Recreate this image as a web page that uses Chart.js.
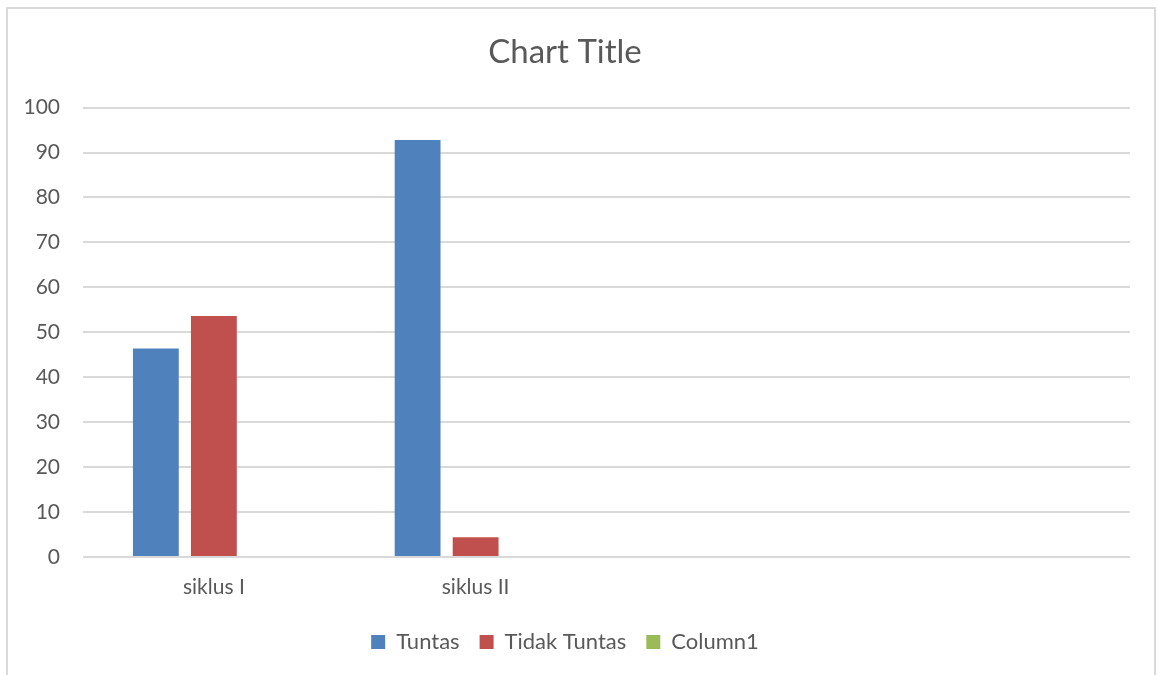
<!DOCTYPE html>
<html>
<head>
<meta charset="utf-8">
<script src="https://cdn.jsdelivr.net/npm/chart.js@4"></script>
<style>
  html, body { margin: 0; padding: 0; background: #fff; overflow: hidden; }
  #wrap { position: relative; width: 1159px; height: 675px; }
  #frame { position: absolute; left: 6px; top: 7px; width: 1150px; height: 680px; border: 2px solid #d9d9d9; box-sizing: border-box; pointer-events: none; }
</style>
</head>
<body>
<div id="wrap">
  <canvas id="myChart" width="1159" height="675"></canvas>
  <div id="frame"></div>
</div>
<script>
// chart data
const categories = ['siklus I', 'siklus II', '', ''];
const tuntasValues = [46.4, 92.8, null, null];
const tidakTuntasValues = [53.6, 4.4, null, null];
const column1Values = [null, null, null, null];
const yTicks = [0, 10, 20, 30, 40, 50, 60, 70, 80, 90, 100];

const canvas = document.getElementById('myChart');
const textColor = '#595959';
const fontFamily = 'Lato, "Open Sans", sans-serif';

const myChart = new Chart(canvas, {
	type: 'bar',
	data: {
		labels: categories,
		datasets: [
			{ label: 'Tuntas', data: tuntasValues, backgroundColor: '#4f81bd' },
			{ label: 'Tidak Tuntas', data: tidakTuntasValues, backgroundColor: '#c0504d' },
			{ label: 'Column1', data: column1Values, backgroundColor: '#9bbb59' }
		]
	},
	options: {
		responsive: false,
		animation: false,
		devicePixelRatio: 1,
		categoryPercentage: 0.665,
		barPercentage: 0.79,
		layout: {
			padding: { left: 0, right: 29, top: 0, bottom: 12 }
		},
		plugins: {
			title: {
				display: true,
				text: 'Chart Title',
				color: textColor,
				font: { family: fontFamily, size: 33, weight: 'normal', lineHeight: 1.2 },
				padding: { top: 33, bottom: 35 }
			},
			legend: {
				position: 'bottom',
				labels: {
					color: textColor,
					font: { family: fontFamily, size: 22 },
					boxWidth: 14,
					boxHeight: 14,
					padding: 20
				}
			},
			tooltip: { enabled: false }
		},
		scales: {
			x: {
				grid: { display: false, drawTicks: false },
				border: { display: false },
				ticks: {
					color: textColor,
					font: { family: fontFamily, size: 21 },
					padding: 18,
					maxRotation: 0
				},
				afterFit: (s) => { s.height = 54; }
			},
			y: {
				min: 0,
				max: 100,
				grid: { color: '#d9d9d9', lineWidth: 2, drawTicks: false },
				border: { display: false },
				afterBuildTicks: (s) => { s.ticks = yTicks.map(v => ({ value: v })); },
				ticks: {
					color: textColor,
					font: { family: fontFamily, size: 21 },
					padding: 23
				},
				afterFit: (s) => { s.width = 83; }
			}
		}
	}
});
</script>
</body>
</html>
